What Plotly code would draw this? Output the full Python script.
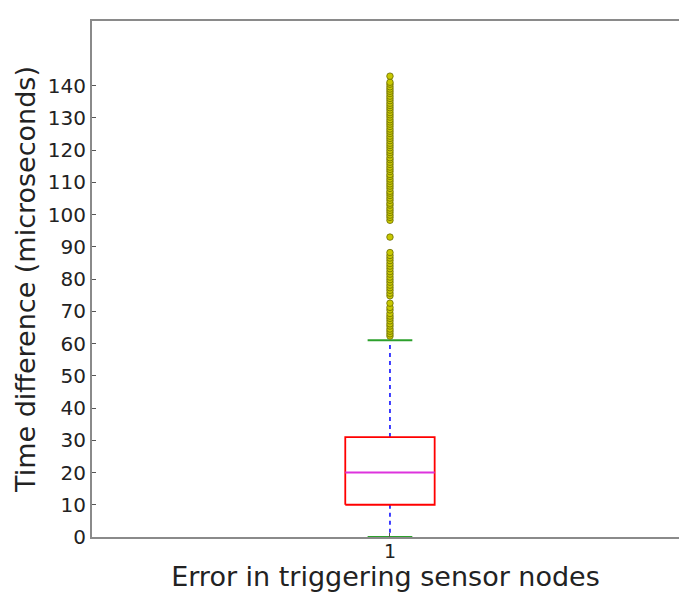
import plotly.graph_objects as go

# Box statistics
category = [1]
q1 = [10.0]
median = [20.0]
q3 = [31.0]
lower_whisker = [0.0]
upper_whisker = [61.0]

# Outliers (fliers)
outliers = [62.3, 63.0, 63.8, 64.5, 65.4, 66.1, 67.0, 67.8, 68.5, 69.3, 70.4, 71.2, 72.5,
            74.8, 75.6, 76.5, 77.3, 78.1, 79.0, 79.8, 80.6, 81.5, 82.3, 83.2, 84.0, 84.8,
            85.7, 86.5, 87.3, 88.2,
            93.0,
            98.2, 99.1, 99.8, 100.6, 101.3, 102.0, 102.9, 103.5, 104.4, 105.1, 105.9, 106.6,
            107.2, 108.1, 108.8, 109.5, 110.3, 111.0, 111.8, 112.4, 113.3, 114.0, 114.7,
            115.5, 116.2, 117.0, 117.6, 118.5, 119.2, 119.9, 120.7, 121.4, 122.1, 122.9,
            123.6, 124.3, 125.1, 125.8, 126.5, 127.3, 128.0, 128.7, 129.4, 130.2, 130.9,
            131.6, 132.4, 133.1, 133.8, 134.5, 135.3, 136.0, 136.7, 137.5, 138.2, 138.9,
            139.6, 140.4, 141.0, 142.9]

yticks = list(range(0, 141, 10))
x_label = "Error in triggering sensor nodes"
y_label = "Time difference (microseconds)"

c = category[0]
hw = 0.075   # box half-width
cw = 0.0375  # cap half-width

fig = go.Figure()
# whiskers
fig.add_trace(go.Scatter(x=[c, c], y=[q3[0], upper_whisker[0]], mode="lines",
                         line=dict(color="#0000ff", width=1.5, dash="4px,4px"), hoverinfo="skip"))
fig.add_trace(go.Scatter(x=[c, c], y=[q1[0], lower_whisker[0]], mode="lines",
                         line=dict(color="#0000ff", width=1.5, dash="4px,4px"), hoverinfo="skip"))
# caps
for w in (upper_whisker[0], lower_whisker[0]):
    fig.add_trace(go.Scatter(x=[c - cw, c + cw], y=[w, w], mode="lines",
                             line=dict(color="#2ca02c", width=1.8), hoverinfo="skip"))
# box
fig.add_trace(go.Scatter(x=[c - hw, c + hw, c + hw, c - hw, c - hw],
                         y=[q1[0], q1[0], q3[0], q3[0], q1[0]], mode="lines",
                         line=dict(color="#ff0000", width=1.8), hoverinfo="skip"))
# median
fig.add_trace(go.Scatter(x=[c - hw, c + hw], y=[median[0], median[0]], mode="lines",
                         line=dict(color="#dd33dd", width=2), hoverinfo="skip"))
# outliers
fig.add_trace(go.Scatter(x=[c] * len(outliers), y=outliers, mode="markers",
                         marker=dict(color="#c8c800", size=6.5,
                                     line=dict(color="#6b6b00", width=0.8)),
                         hoverinfo="skip"))

fig.update_layout(
    width=679, height=592,
    margin=dict(l=92, r=0, t=21, b=55),
    plot_bgcolor="white", paper_bgcolor="white",
    showlegend=False,
    font=dict(family="DejaVu Sans", color="#222222"),
)
fig.update_xaxes(range=[0.5, 1.485], tickvals=category, ticktext=["1"],
                 showgrid=False, zeroline=False, showline=True, mirror=True,
                 linecolor="#8a8a8a", linewidth=2,
                 ticks="inside", ticklen=4, tickcolor="#555555",
                 tickfont=dict(size=19), ticklabelstandoff=-4, automargin=False,
                 title=dict(text=x_label, font=dict(size=27), standoff=0))
fig.update_yaxes(range=[0, 160], tickvals=yticks,
                 showgrid=False, zeroline=False, showline=True, mirror=False,
                 linecolor="#8a8a8a", linewidth=2,
                 ticks="inside", ticklen=4, tickcolor="#555555",
                 tickfont=dict(size=20), automargin=False,
                 title=dict(text=y_label, font=dict(size=27), standoff=4))

fig.write_html("out.html", config={"displayModeBar": False},
               post_script="document.body.style.margin='0';document.body.style.overflow='hidden';")
